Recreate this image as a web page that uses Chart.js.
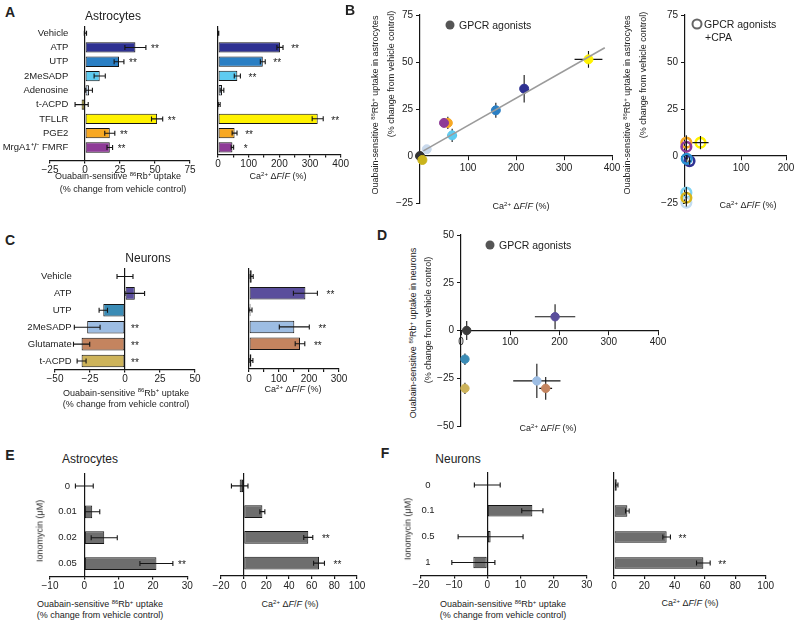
<!DOCTYPE html>
<html><head><meta charset="utf-8">
<script src="https://cdn.jsdelivr.net/npm/chart.js@4.4.1/dist/chart.umd.min.js"></script>
<style>
body{margin:0;background:#fff;}
#fig{position:relative;width:800px;height:624px;overflow:hidden;font-family:'Liberation Sans',Arial,sans-serif;color:#222;background:#fff;}
canvas{position:absolute;}
.t{position:absolute;white-space:nowrap;transform:translate(-50%,-50%);text-align:center;line-height:1.2;}
.tl{position:absolute;white-space:nowrap;transform:translate(0,-50%);line-height:1.2;}
.ax{font-size:9px;}
.lg{font-size:10.5px;}
.ttl{font-size:12px;}
.let{font-size:14px;font-weight:bold;}
.rot{transform:translate(-50%,-50%) rotate(-90deg);}
sup{font-size:6px;vertical-align:0;position:relative;top:-3.5px;}
.dot{position:absolute;border-radius:50%;transform:translate(-50%,-50%);}
</style></head><body><div id="fig"></div>
<script>
// ---------------- DATA ----------------
const astroAgonists = ['Vehicle','ATP','UTP','2MeSADP','Adenosine','t-ACPD','TFLLR','PGE2','MrgA1\u207A/\u207B FMRF'];
const astroRb      = [0.3, 36, 24.3, 10.5, 2.9, -2.4, 51.5, 17.7, 17.7];
const astroRbErr   = [0.8, 7.5, 3.5, 4, 2.4, 4.7, 4, 3.6, 2];
const astroRbStars = ['', '**', '**', '', '', '', '**', '**', '**'];
const astroCa      = [1, 202, 146, 63, 13, 4, 325, 54, 47];
const astroCaErr   = [1.5, 10, 8, 10, 6, 3, 18, 8, 4];
const astroCaStars = ['', '**', '**', '**', '', '', '**', '**', '*'];

const neuroAgonists = ['Vehicle','ATP','UTP','2MeSADP','Glutamate','t-ACPD'];
const neuroRb      = [0, 7, -15.5, -27, -31, -31];
const neuroRbErr   = [5.7, 7, 3, 9.2, 5.8, 3.2];
const neuroRbStars = ['', '', '', '**', '**', '**'];
const neuroCa      = [9, 188, 5, 151, 170, 8];
const neuroCaErr   = [5, 40, 5, 50, 16, 5];
const neuroCaStars = ['', '**', '', '**', '**', ''];

// Panel B: scatter, astrocytes (order: Vehicle, ATP, UTP, 2MeSADP, Adenosine, t-ACPD, TFLLR, PGE2, FMRF)
const bCa     = [0, 217, 158, 67, 14, 5, 351, 58, 50];
const bRb     = [0, 35.8, 24.3, 11, 3.6, -2.1, 51.4, 17.6, 17.6];
const bCaErr  = [0, 5, 4, 10, 3, 2, 29, 4, 3];
const bRbErr  = [0, 7.3, 4, 3.5, 2, 2, 4.4, 3.3, 1.5];
const bFitCa  = [7, 385];
const bFitRb  = [2.7, 57.6];
const bXTicks = [100, 200, 300, 400];

// Panel B right: GPCR agonists + CPA (order: ATP, UTP, 2MeSADP, Adenosine, t-ACPD, TFLLR, PGE2, FMRF)
const cpaCa    = [-15, -21, -22, -22, -22, 9.5, -22, -22];
const cpaRb    = [-2.7, -1.5, -19.5, -24.8, -22.2, 7.1, 7.1, 4.9];
const cpaCaErr = [3, 3, 2, 2, 2, 18, 2, 2];
const cpaRbErr = [2, 2, 3, 2, 2, 3.5, 4, 2];
const cpaXTicks = [100, 200];

// Panel D: neurons scatter (order: Vehicle, ATP, UTP, 2MeSADP, Glutamate, t-ACPD)
const dCa    = [11.6, 191, 8, 154, 172, 8];
const dRb    = [0, 7.2, -15, -26.4, -30.3, -30.3];
const dCaErr = [3, 41, 3, 48, 13, 3];
const dRbErr = [5, 6.5, 3, 9, 6, 3];
const dXTicks = [0, 100, 200, 300, 400];

// Panels E, F: ionomycin
const ionoAstroConc  = ['0', '0.01', '0.02', '0.05'];
const ionoAstroRb    = [0, 2.3, 5.8, 21];
const ionoAstroRbErr = [2.6, 2.2, 3.8, 4.8];
const ionoAstroRbStars = ['', '', '', '**'];
const ionoAstroCa    = [-3.5, 16.5, 57, 66.5];
const ionoAstroCaErr = [7.3, 2.2, 4, 4.8];
const ionoAstroCaStars = ['', '', '**', '**'];

const ionoNeuroConc  = ['0', '0.1', '0.5', '1'];
const ionoNeuroRb    = [0, 13.6, 1, -4.2];
const ionoNeuroRbErr = [3.9, 3.2, 9.8, 6.5];
const ionoNeuroRbStars = ['', '', '', ''];
const ionoNeuroCa    = [1.8, 8.8, 34.7, 58.9];
const ionoNeuroCaErr = [0.8, 1.2, 2.5, 4.5];
const ionoNeuroCaStars = ['', '', '**', '**'];

// ---------------- STYLES ----------------
const astroColors = ['#333333','#2e3192','#2a7fc4','#5ecbf0','#c9d9ec','#c9b31c','#fff200','#f7a823','#8e3b97'];
const neuroColors = ['#6a6a62','#5a4e9c','#3a8bb5','#9dbde3','#c4845f','#cdb35a'];
const bColors     = astroColors;
const cpaColors   = ['#2e3192','#2a8ed0','#7fd3f2','#c3dcf0','#d8b61c','#fff200','#f7a823','#8e3b97'];
const ionoColor   = '#6e6e6e';

const FONT = "'Liberation Sans', Arial, sans-serif";
Chart.defaults.font.family = FONT;
const INK = '#151515';
const fmt = v => (v < 0 ? '\u2212' + Math.abs(v) : String(v));

function drawErr(chart, after) {
  const ctx = chart.ctx, xs = chart.scales.x, ys = chart.scales.y;
  const starOff = (chart.options.plugins.err && chart.options.plugins.err.starOff) || 10;
  chart.data.datasets.forEach((ds, di) => {
    if (!ds.errMode || !!ds.errOnTop !== after) return;
    const meta = chart.getDatasetMeta(di);
    ctx.save();
    ctx.strokeStyle = INK; ctx.lineWidth = 1.1; ctx.fillStyle = '#222';
    meta.data.forEach((el, i) => {
      const d = ds.data[i];
      if (ds.errMode === 'bar') {
        const e = ds.errX[i], y = el.y;
        const x1 = xs.getPixelForValue(d - e), x2 = xs.getPixelForValue(d + e);
        ctx.beginPath();
        ctx.moveTo(x1, y); ctx.lineTo(x2, y);
        ctx.moveTo(x1, y - 2.5); ctx.lineTo(x1, y + 2.5);
        ctx.moveTo(x2, y - 2.5); ctx.lineTo(x2, y + 2.5);
        ctx.stroke();
        if (ds.stars && ds.stars[i]) {
          ctx.font = "10px " + FONT;
          ctx.textAlign = 'center'; ctx.textBaseline = 'middle';
          ctx.fillText(ds.stars[i], xs.getPixelForValue(Math.max(0, d + e)) + starOff, y + 2);
        }
      } else {
        const px = el.x, py = el.y;
        ctx.beginPath();
        if (ds.errX && ds.errX[i]) { ctx.moveTo(xs.getPixelForValue(d.x - ds.errX[i]), py); ctx.lineTo(xs.getPixelForValue(d.x + ds.errX[i]), py); }
        if (ds.errY && ds.errY[i]) { ctx.moveTo(px, ys.getPixelForValue(d.y - ds.errY[i])); ctx.lineTo(px, ys.getPixelForValue(d.y + ds.errY[i])); }
        ctx.stroke();
      }
    });
    ctx.restore();
  });
}
const errPlugin = { id: 'err', beforeDatasetsDraw(c){ drawErr(c, false); }, afterDatasetsDraw(c){ drawErr(c, true); } };

// centred category labels (used by the ionomycin panels), positioned through the category scale
const catLabelPlugin = {
  id: 'catlab',
  afterDraw(chart, args, opts) {
    if (!opts || opts.center == null) return;
    const ctx = chart.ctx, ys = chart.scales.y;
    ctx.save();
    ctx.font = "9.5px " + FONT; ctx.fillStyle = '#222';
    ctx.textAlign = 'center'; ctx.textBaseline = 'middle';
    chart.data.labels.forEach((lab, i) => ctx.fillText(lab, chart.chartArea.left + opts.center, ys.getPixelForValue(i)));
    ctx.restore();
  }
};

const fig = document.getElementById('fig');
// area = [left, right, top, bottom] of the plot area in page px; m = margins around it
function mount(area, m, cfg, yW, xH) {
  const [l, r, t, b] = area, [ml, mr, mt, mb] = m;
  const W = Math.round(r - l + ml + mr), H = Math.round(b - t + mt + mb);
  const c = document.createElement('canvas');
  c.width = W; c.height = H;
  Object.assign(c.style, {left: (l - ml) + 'px', top: (t - mt) + 'px', width: W + 'px', height: H + 'px'});
  fig.appendChild(c);
  const sx = cfg.options.scales;
  const fit = (w, h) => s => { if (s.isHorizontal()) s.height = h; else s.width = w; s.paddingLeft = 0; s.paddingRight = 0; s.paddingTop = 0; s.paddingBottom = 0; };
  sx.x.afterFit = fit(0, xH); sx.y.afterFit = fit(yW, 0);
  cfg.options.layout = {padding: {left: ml - yW, right: W - ml - (r - l), top: mt, bottom: H - mt - (b - t) - xH}};
  cfg.options.responsive = false; cfg.options.animation = false; cfg.options.devicePixelRatio = 1;
  cfg.options.events = [];
  return new Chart(c, cfg);
}

function barChart(area, m, o) {
  const labEdge = o.min + (o.max - o.min) * (o.labPad || 0) / (area[1] - area[0]);
  return mount(area, m, {
    type: 'bar',
    data: {labels: o.labels, datasets: [{data: o.values, errX: o.errs, stars: o.stars, errMode: 'bar', errOnTop: true,
      backgroundColor: o.colors, borderColor: INK, borderWidth: 1, borderSkipped: false,
      barPercentage: o.barPct, categoryPercentage: 1}]},
    options: {
      indexAxis: 'y',
      plugins: {legend: {display: false}, tooltip: {enabled: false}, err: {starOff: o.starOff || 10},
                catlab: {center: o.labCenter}},
      scales: {
        x: {type: 'linear', min: o.min, max: o.max, position: 'bottom',
            ticks: {stepSize: o.step, autoSkip: false, maxRotation: 0, padding: 1, color: '#222', font: {size: 10},
                    callback: v => (o.every && v % o.every !== 0) ? '' : fmt(v)},
            grid: {drawOnChartArea: true, drawTicks: true, tickLength: 3, tickColor: INK, lineWidth: 1.2,
                   color: c => (c.tick && c.tick.value === 0) ? INK : 'rgba(0,0,0,0)'},
            border: {display: true, color: INK, width: 1.2}},
        y: {type: 'category', position: {x: labEdge},
            afterBuildTicks: s => { if (o.extra) s._valueRange += o.extra; },
            ticks: {display: !!o.showLabels, padding: 0, autoSkip: false, color: '#222', font: {size: 9.5}},
            grid: {display: false, drawTicks: false}, border: {display: false}}
      }
    },
    plugins: [errPlugin, catLabelPlugin]
  }, 0, m[3]);
}

function scatterChart(area, m, o) {
  const datasets = [];
  if (o.fit) datasets.push({type: 'line', data: o.fit, borderColor: '#9b9b9b', borderWidth: 1.6, pointRadius: 0, clip: false});
  datasets.push({type: 'scatter', data: o.points, errX: o.errX, errY: o.errY, errMode: 'xy', errOnTop: !!o.errOnTop,
    backgroundColor: o.fill, borderColor: o.colors, borderWidth: o.bw, pointRadius: o.r, clip: false});
  return mount(area, m, {
    type: 'scatter',
    data: {datasets},
    options: {
      plugins: {legend: {display: false}, tooltip: {enabled: false}},
      scales: {
        x: {type: 'linear', min: o.xmin, max: o.xmax, position: {y: 0},
            afterBuildTicks: s => { s.ticks = o.xticks.map(v => ({value: v})); },
            ticks: {padding: 2, color: '#222', font: {size: 10}, autoSkip: false, maxRotation: 0, callback: fmt},
            grid: {drawOnChartArea: false, tickLength: 4, tickColor: INK, color: INK},
            border: {display: true, color: INK, width: 1.2}},
        y: {type: 'linear', min: o.ymin, max: o.ymax, position: 'left',
            ticks: {stepSize: 25, padding: 3, color: '#222', font: {size: 10}, callback: fmt},
            grid: {drawOnChartArea: false, tickLength: 4, tickColor: INK, color: INK},
            border: {display: true, color: INK, width: 1.2}}
      }
    },
    plugins: [errPlugin]
  }, m[0], 0);
}

// ---------------- CHARTS ----------------
// A
barChart([50, 190, 26, 160.5], [50, 25, 5, 18], {labels: astroAgonists, values: astroRb, errs: astroRbErr, stars: astroRbStars,
  colors: astroColors, min: -25, max: 75, step: 25, barPct: 0.72, showLabels: true, labPad: 18.3, extra: 0.41, starOff: 9});
barChart([218.3, 341, 26, 154.5], [10, 25, 5, 18], {labels: astroAgonists, values: astroCa, errs: astroCaErr, stars: astroCaStars,
  colors: astroColors, min: 0, max: 400, step: 50, every: 100, barPct: 0.72, starOff: 12});
// C
barChart([55, 195, 268, 369.5], [55, 20, 5, 18], {labels: neuroAgonists, values: neuroRb, errs: neuroRbErr, stars: neuroRbStars,
  colors: neuroColors, min: -50, max: 50, step: 25, barPct: 0.74, showLabels: true, labPad: 16.7, starOff: 10});
barChart([249, 339, 268, 369], [10, 25, 5, 18], {labels: neuroAgonists, values: neuroCa, errs: neuroCaErr, stars: neuroCaStars,
  colors: neuroColors, min: 0, max: 300, step: 50, every: 100, barPct: 0.74, starOff: 13});
// E
barChart([50, 187.3, 473, 576.5], [50, 20, 5, 18], {labels: ionoAstroConc, values: ionoAstroRb, errs: ionoAstroRbErr, stars: ionoAstroRbStars,
  colors: ionoColor, min: -10, max: 30, step: 10, barPct: 0.49, labCenter: 17.5, starOff: 9});
barChart([220.7, 356.7, 473, 576], [12, 20, 5, 18], {labels: ionoAstroConc, values: ionoAstroCa, errs: ionoAstroCaErr, stars: ionoAstroCaStars,
  colors: ionoColor, min: -20, max: 100, step: 20, barPct: 0.49, starOff: 13});
// F
barChart([421, 586.7, 471.5, 575], [30, 12, 5, 18], {labels: ionoNeuroConc, values: ionoNeuroRb, errs: ionoNeuroRbErr, stars: ionoNeuroRbStars,
  colors: ionoColor, min: -20, max: 30, step: 10, barPct: 0.44, labCenter: 7});
barChart([614, 765.7, 472, 576], [10, 25, 5, 18], {labels: ionoNeuroConc, values: ionoNeuroCa, errs: ionoNeuroCaErr, stars: ionoNeuroCaStars,
  colors: ionoColor, min: 0, max: 100, step: 20, barPct: 0.44, starOff: 12});

// B left
scatterChart([420, 612, 15, 203], [30, 12, 8, 15], {
  points: bCa.map((x, i) => ({x, y: bRb[i]})), errX: bCaErr, errY: bRbErr,
  fit: bFitCa.map((x, i) => ({x, y: bFitRb[i]})),
  colors: bColors, fill: bColors, bw: 1, r: 4.5,
  xmin: 0, xmax: 400, ymin: -25, ymax: 75, xticks: bXTicks});
// B right
scatterChart([685, 786, 15, 203], [30, 12, 8, 15], {
  points: cpaCa.map((x, i) => ({x, y: cpaRb[i]})), errX: cpaCaErr, errY: cpaRbErr, errOnTop: true,
  colors: cpaColors, fill: 'rgba(0,0,0,0)', bw: 2.6, r: 4.8,
  xmin: -25, xmax: 200, ymin: -25, ymax: 75, xticks: cpaXTicks});
// D
scatterChart([461, 658, 235, 426], [30, 12, 8, 15], {
  points: dCa.map((x, i) => ({x, y: dRb[i]})), errX: dCaErr, errY: dRbErr,
  colors: neuroColors.map((c, i) => i === 0 ? '#3c3c3c' : c), fill: neuroColors.map((c, i) => i === 0 ? '#3c3c3c' : c), bw: 1, r: 4.2,
  xmin: 0, xmax: 400, ymin: -50, ymax: 50, xticks: dXTicks});

// ---------------- TEXT ----------------
const RB = 'Ouabain-sensitive <sup>86</sup>Rb<sup>+</sup> uptake';
const PCT = '(% change from vehicle control)';
const CA = 'Ca<sup>2+</sup> \u0394<i>F</i>/<i>F</i> (%)';
function txt(html, x, y, cls, rot) {
  const d = document.createElement('div');
  d.className = (cls.indexOf('left') >= 0 ? 'tl ' : 't ') + cls + (rot ? ' rot' : '');
  d.innerHTML = html; d.style.left = x + 'px'; d.style.top = y + 'px';
  fig.appendChild(d);
}
function dot(x, y, size, fill, border) {
  const d = document.createElement('div'); d.className = 'dot';
  Object.assign(d.style, {left: x + 'px', top: y + 'px', width: size + 'px', height: size + 'px', background: fill, border: border || 'none', boxSizing: 'border-box'});
  fig.appendChild(d);
}
// letters
txt('A', 10, 12, 'let'); txt('B', 350, 10, 'let'); txt('C', 10, 240, 'let');
txt('D', 382, 235, 'let'); txt('E', 10, 455, 'let'); txt('F', 385, 453, 'let');
// titles
txt('Astrocytes', 113, 16, 'ttl'); txt('Neurons', 148, 258, 'ttl');
txt('Astrocytes', 90, 459, 'ttl'); txt('Neurons', 458, 459, 'ttl');
// A
txt(RB, 118, 176, 'ax'); txt(PCT, 123, 189, 'ax'); txt(CA, 278, 176, 'ax');
// B
txt(RB + ' in astrocytes', 375, 105, 'ax', true); txt(PCT, 390.5, 74, 'ax', true);
txt(CA, 521, 206, 'ax');
dot(450, 25, 9, '#555'); txt('GPCR agonists', 459, 25, 'lg left');
txt(RB + ' in astrocytes', 627, 105, 'ax', true); txt(PCT, 643, 75, 'ax', true);
txt(CA, 748, 205, 'ax');
dot(697, 24, 11, 'transparent', '2px solid #666'); txt('GPCR agonists', 704, 24, 'lg left'); txt('+CPA', 705, 37, 'lg left');
// C
txt(RB, 126, 392.7, 'ax'); txt(PCT, 126, 404.3, 'ax'); txt(CA, 293, 389.3, 'ax');
// D
txt(RB + ' in neurons', 413.3, 333, 'ax', true); txt(PCT, 428.3, 320, 'ax', true);
txt(CA, 548, 428, 'ax');
dot(490, 245, 9, '#555'); txt('GPCR agonists', 499, 245, 'lg left');
// E
txt('Ionomycin (\u03BCM)', 40, 531, 'ax', true);
txt(RB, 100, 604, 'ax'); txt(PCT, 100, 615, 'ax'); txt(CA, 290, 604, 'ax');
// F
txt('Ionomycin (\u03BCM)', 408.3, 529, 'ax', true);
txt(RB, 503, 604, 'ax'); txt(PCT, 503, 615, 'ax'); txt(CA, 690, 603, 'ax');
</script></body></html>
